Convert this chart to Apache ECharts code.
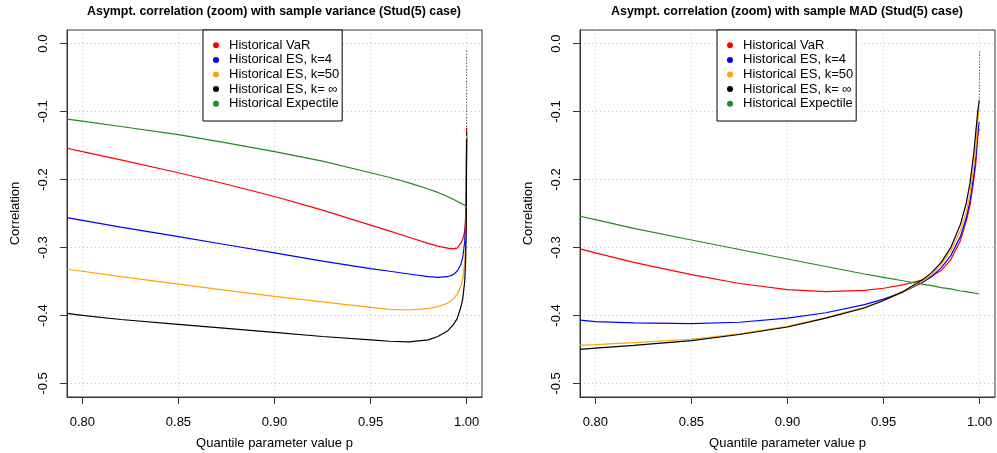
<!DOCTYPE html>
<html><head><meta charset="utf-8">
<script src="https://cdn.jsdelivr.net/npm/echarts@6/dist/echarts.min.js"></script>
<style>html,body{margin:0;padding:0;background:#fff}#c{width:997px;height:453px}</style>
</head><body><div id="c"></div>
<script>
// ---- data ----
const seriesNames = ['Historical VaR', 'Historical ES, k=4', 'Historical ES, k=50', 'Historical ES, k= \u221e', 'Historical Expectile'];
const seriesColors = ['#ff0000', '#0000ff', '#ffa500', '#000000', '#1f8a1f'];
const xTicks = [0.80, 0.85, 0.90, 0.95, 1.00];
const yTicks = [-0.5, -0.4, -0.3, -0.2, -0.1, 0.0];
const titleLeft = 'Asympt. correlation (zoom) with sample variance (Stud(5) case)';
const titleRight = 'Asympt. correlation (zoom) with sample MAD (Stud(5) case)';

// left panel: sample variance
const pLeft = [0.792, 0.80, 0.82, 0.85, 0.875, 0.90, 0.925, 0.95, 0.96, 0.97, 0.98, 0.985, 0.99, 0.993, 0.995, 0.997, 0.998, 0.999, 0.9995, 0.9998, 1.0];
const varVaR   = [-0.154,-0.159,-0.171,-0.190,-0.207,-0.225,-0.245,-0.267,-0.276,-0.285,-0.294,-0.298,-0.301,-0.302,-0.301,-0.294,-0.288,-0.276,-0.255,-0.220,-0.124];
const varES4   = [-0.256,-0.260,-0.270,-0.284,-0.296,-0.308,-0.320,-0.331,-0.335,-0.339,-0.343,-0.344,-0.343,-0.340,-0.335,-0.325,-0.314,-0.292,-0.262,-0.225,-0.131];
const varES50  = [-0.332,-0.335,-0.343,-0.354,-0.363,-0.372,-0.380,-0.388,-0.391,-0.392,-0.390,-0.387,-0.382,-0.376,-0.369,-0.357,-0.346,-0.322,-0.290,-0.250,-0.135];
const varESinf = [-0.397,-0.400,-0.406,-0.413,-0.419,-0.425,-0.431,-0.436,-0.438,-0.439,-0.436,-0.431,-0.423,-0.414,-0.405,-0.388,-0.375,-0.350,-0.315,-0.270,-0.140];
const varExp   = [-0.111,-0.114,-0.122,-0.134,-0.146,-0.159,-0.173,-0.190,-0.197,-0.205,-0.214,-0.219,-0.225,-0.229,-0.232,-0.235,-0.236,-0.238,-0.239,-0.240,-0.241];
// limit of the k = inf curve at p = 1 (thin dotted tail)
const varESinfTailP = [1.0, 1.0];
const varESinfTail  = [-0.140, -0.010];

// right panel: sample MAD
const pRight = [0.792, 0.80, 0.82, 0.85, 0.875, 0.90, 0.92, 0.94, 0.95, 0.96, 0.97, 0.975, 0.98, 0.985, 0.99, 0.993, 0.995, 0.997, 0.998, 0.999, 0.9995, 0.9998];
const madVaR   = [-0.302,-0.308,-0.322,-0.340,-0.353,-0.362,-0.365,-0.363,-0.360,-0.355,-0.348,-0.342,-0.334,-0.318,-0.290,-0.262,-0.238,-0.200,-0.177,-0.138,-0.128,-0.125];
const madES4   = [-0.407,-0.409,-0.411,-0.412,-0.410,-0.404,-0.396,-0.384,-0.376,-0.366,-0.352,-0.343,-0.330,-0.312,-0.284,-0.257,-0.232,-0.193,-0.168,-0.132,-0.120,-0.115];
const madES50  = [-0.444,-0.443,-0.440,-0.435,-0.427,-0.416,-0.403,-0.388,-0.378,-0.366,-0.350,-0.340,-0.325,-0.305,-0.275,-0.248,-0.220,-0.180,-0.155,-0.118,-0.100,-0.095];
const madESinf = [-0.450,-0.448,-0.444,-0.437,-0.428,-0.417,-0.404,-0.389,-0.378,-0.365,-0.348,-0.337,-0.322,-0.300,-0.266,-0.235,-0.205,-0.160,-0.130,-0.100,-0.090,-0.084];
const madExp   = [-0.254,-0.259,-0.272,-0.289,-0.303,-0.317,-0.328,-0.339,-0.344,-0.349,-0.354,-0.356,-0.359,-0.361,-0.364,-0.365,-0.366,-0.367,-0.367,-0.368,-0.368,-0.368];
const madESinfTailP = [0.9998, 1.0];
const madESinfTail  = [-0.084, -0.010];

// ---- chart ----
const FONT = '"Liberation Sans", Arial, Helvetica, sans-serif';
const chart = echarts.init(document.getElementById('c'), null, {renderer: 'canvas'});

function xAxis(gi) {
  return {
    type: 'value', gridIndex: gi, min: 0.792, max: 1.008,
    name: 'Quantile parameter value p', nameLocation: 'middle', nameGap: 40,
    nameTextStyle: {fontSize: 13, color: '#000', fontFamily: FONT},
    axisLine: {show: true, onZero: false, lineStyle: {color: '#333', width: 1}},
    axisTick: {show: true, length: 7, customValues: xTicks, lineStyle: {color: '#333'}},
    axisLabel: {customValues: xTicks, formatter: v => v.toFixed(2), margin: 19, fontSize: 13, color: '#000', fontFamily: FONT},
    splitLine: {show: true, lineStyle: {color: '#c4c4c4', width: 1, type: [1, 3]}}
  };
}
function yAxis(gi) {
  return {
    type: 'value', gridIndex: gi, min: -0.52, max: 0.02,
    name: 'Correlation', nameLocation: 'middle', nameGap: 45,
    nameTextStyle: {fontSize: 13, color: '#000', fontFamily: FONT},
    axisLine: {show: true, onZero: false, lineStyle: {color: '#333', width: 1}},
    axisTick: {show: true, length: 7, customValues: yTicks, lineStyle: {color: '#333'}},
    axisLabel: {customValues: yTicks, rotate: 90, formatter: v => v.toFixed(1), margin: 17, fontSize: 13, color: '#000', fontFamily: FONT},
    splitLine: {show: true, lineStyle: {color: '#c4c4c4', width: 1, type: [1, 3]}}
  };
}
function legend(left) {
  return {
    orient: 'vertical', left: left, top: 30, padding: [8, 3, 10, 10], itemGap: 0,
    itemWidth: 16, itemHeight: 6, icon: 'circle',
    borderColor: '#000', borderWidth: 1, backgroundColor: '#fff', borderRadius: 0,
    selectedMode: false,
    textStyle: {fontSize: 13, color: '#000', lineHeight: 14.6, fontFamily: FONT},
    data: seriesNames
  };
}
function mk(name, color, ps, vals, gi, dotted) {
  return {
    type: 'line', name: name, xAxisIndex: gi, yAxisIndex: gi,
    data: ps.map((p, i) => [p, vals[i]]),
    showSymbol: false, symbol: 'none', smooth: false,
    lineStyle: {color: color, width: dotted ? 1 : 1.2, type: dotted ? [1, 2] : 'solid'}, itemStyle: {color: color},
    animation: false
  };
}
const leftVals = [varVaR, varES4, varES50, varESinf, varExp];
const rightVals = [madVaR, madES4, madES50, madESinf, madExp];
const series = [];
seriesNames.forEach((n, i) => series.push(mk(n, seriesColors[i], pLeft, leftVals[i], 0)));
series.push(mk(seriesNames[3], '#222', varESinfTailP, varESinfTail, 0, true));
seriesNames.forEach((n, i) => series.push(mk(n, seriesColors[i], pRight, rightVals[i], 1)));
series.push(mk(seriesNames[3], '#222', madESinfTailP, madESinfTail, 1, true));

chart.setOption({
  backgroundColor: '#fff',
  animation: false,
  title: [
    {text: titleLeft, left: 274, top: 6, textAlign: 'center', padding: 0, textStyle: {fontSize: 12.4, fontWeight: 'bold', color: '#000', fontFamily: FONT}},
    {text: titleRight, left: 787, top: 6, textAlign: 'center', padding: 0, textStyle: {fontSize: 12.4, fontWeight: 'bold', color: '#000', fontFamily: FONT}}
  ],
  grid: [
    {left: 67, top: 30, width: 415, height: 367, show: true, borderColor: '#333', borderWidth: 1, containLabel: false, outerBoundsMode: 'none'},
    {left: 580, top: 30, width: 415, height: 367, show: true, borderColor: '#333', borderWidth: 1, containLabel: false, outerBoundsMode: 'none'}
  ],
  legend: [legend(203), legend(717)],
  xAxis: [xAxis(0), xAxis(1)],
  yAxis: [yAxis(0), yAxis(1)],
  series: series
});
</script>
</body></html>
